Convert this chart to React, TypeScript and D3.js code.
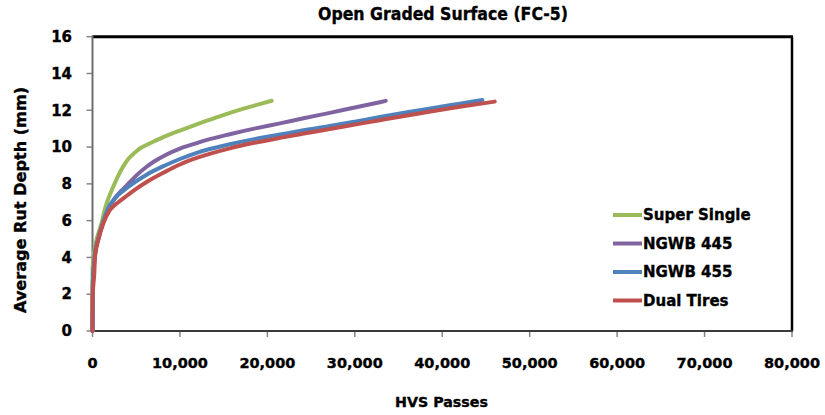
import React from "react";
import * as d3 from "d3";

type Pt = [number, number];

const title = "Open Graded Surface (FC-5)";
const xTitle = "HVS Passes";
const yTitle = "Average Rut Depth (mm)";
const xTicks = [0, 10000, 20000, 30000, 40000, 50000, 60000, 70000, 80000];
const yTicks = [0, 2, 4, 6, 8, 10, 12, 14, 16];

const superSingle: Pt[] = [
  [0, 0], [5, 3.4], [100, 3.9], [286, 4.6], [480, 5.0], [1050, 5.9], [1430, 6.65], [1810, 7.2],
  [2380, 7.85], [2950, 8.45], [3520, 8.95], [4090, 9.35], [4860, 9.7], [5430, 9.93], [6000, 10.07],
  [7000, 10.3], [8290, 10.58], [10000, 10.9], [11140, 11.1], [13000, 11.42], [14950, 11.74],
  [17000, 12.05], [19000, 12.32], [20500, 12.52],
];
const ngwb445: Pt[] = [
  [0, 0], [30, 2.5], [150, 3.5], [286, 4.2], [660, 5.0], [1230, 5.9], [1810, 6.6], [2380, 7.1],
  [2950, 7.45], [3900, 7.9], [5000, 8.45], [6190, 8.93], [7000, 9.2], [8480, 9.6], [10000, 9.92],
  [11140, 10.1], [13000, 10.38], [15710, 10.7], [18500, 11.0], [21430, 11.29], [24000, 11.55],
  [27140, 11.86], [30000, 12.15], [32860, 12.44], [33540, 12.51],
];
const ngwb455: Pt[] = [
  [0, 0], [30, 2.5], [150, 3.5], [286, 4.2], [660, 5.0], [1230, 5.95], [1810, 6.7], [2380, 7.1],
  [2950, 7.4], [4000, 7.8], [4860, 8.1], [6190, 8.5], [8290, 9.0], [10000, 9.35], [12000, 9.7],
  [15710, 10.15], [18500, 10.43], [21430, 10.68], [24000, 10.9], [27140, 11.14], [30000, 11.38],
  [32860, 11.63], [36000, 11.89], [39000, 12.13], [42000, 12.36], [44590, 12.56],
];
const dualTires: Pt[] = [
  [0, 0], [20, 1.9], [206, 3.14], [286, 4.0], [663, 4.95], [1234, 5.86], [2000, 6.58], [2950, 7.0],
  [4000, 7.38], [4860, 7.68], [6190, 8.1], [8290, 8.65], [10000, 9.05], [12000, 9.42], [15710, 9.93],
  [18500, 10.23], [21430, 10.5], [24000, 10.72], [27140, 10.98], [30000, 11.22], [32860, 11.46],
  [36000, 11.72], [39000, 11.96], [42000, 12.19], [46000, 12.47],
];

const seriesNames = ["Super Single", "NGWB 445", "NGWB 455", "Dual Tires"];
const seriesData = [superSingle, ngwb445, ngwb455, dualTires];
const seriesColors = ["#9BBB59", "#8064A2", "#4F81BD", "#C0504D"];

const W = 825;
const H = 415;
const left = 92.5;
const right = 792;
const top = 36.7;
const bottom = 331;
const FONT = "'DejaVu Sans', sans-serif";

export default function App() {
  const x = d3.scaleLinear().domain([0, 80000]).range([left, right]);
  const y = d3.scaleLinear().domain([0, 16]).range([bottom, top]);
  const line = d3
    .line<Pt>()
    .x((d) => x(d[0]))
    .y((d) => y(d[1]))
    .curve(d3.curveMonotoneX);
  const fmt = d3.format(",");

  return (
    <svg
      width={W}
      height={H}
      style={{ position: "absolute", left: 0, top: 0, background: "#fff" }}
      fontFamily={FONT}
      fontWeight="bold"
    >
      <rect x={0} y={0} width={W} height={H} fill="#fff" />
      <g stroke="#000" strokeWidth={0.35}>
        <text x={443} y={20} textAnchor="middle" fontSize={17} textLength={250} lengthAdjust="spacingAndGlyphs">
          {title}
        </text>
        {yTicks.map((t) => (
          <text key={"yl" + t} x={72} y={y(t)} dy="0.35em" textAnchor="end" fontSize={15}>
            {t}
          </text>
        ))}
        {xTicks.map((t) => (
          <text key={"xl" + t} x={x(t)} y={363} dy="0.35em" textAnchor="middle" fontSize={14.5}>
            {fmt(t)}
          </text>
        ))}
        <text x={441.5} y={402} dy="0.35em" textAnchor="middle" fontSize={14.5} textLength={93} lengthAdjust="spacingAndGlyphs">
          {xTitle}
        </text>
        <text
          transform={`translate(21,200) rotate(-90)`}
          dy="0.35em"
          textAnchor="middle"
          fontSize={15}
          textLength={226}
          lengthAdjust="spacingAndGlyphs"
        >
          {yTitle}
        </text>
      </g>

      {/* ticks */}
      {yTicks.map((t) => (
        <line key={"yt" + t} x1={left - 6} x2={left} y1={y(t)} y2={y(t)} stroke="#868686" strokeWidth={1.5} />
      ))}
      {xTicks.map((t) => (
        <line key={"xt" + t} x1={x(t)} x2={x(t)} y1={bottom} y2={bottom + 6} stroke="#868686" strokeWidth={1.5} />
      ))}

      {/* plot frame */}
      <line x1={left} x2={right + 1} y1={top} y2={top} stroke="#000" strokeWidth={3} />
      <line x1={right} x2={right} y1={top} y2={bottom} stroke="#000" strokeWidth={2.5} />
      <line x1={left} x2={left} y1={top - 1} y2={bottom} stroke="#6e6e6e" strokeWidth={2} />
      <line x1={left} x2={right + 1} y1={bottom} y2={bottom} stroke="#3a3a3a" strokeWidth={2} />

      {/* series */}
      {seriesData.map((d, i) => (
        <path
          key={seriesNames[i]}
          d={line(d) || ""}
          fill="none"
          stroke={seriesColors[i]}
          strokeWidth={4}
          strokeLinejoin="round"
          strokeLinecap="round"
        />
      ))}

      {/* legend */}
      {seriesNames.map((n, i) => {
        const ly = 215 + i * 28.5;
        return (
          <g key={"lg" + n}>
            <line x1={613} x2={642} y1={ly} y2={ly} stroke={seriesColors[i]} strokeWidth={4} />
            <text x={643} y={ly} dy="0.35em" fontSize={15} stroke="#000" strokeWidth={0.35}>
              {n}
            </text>
          </g>
        );
      })}
    </svg>
  );
}
